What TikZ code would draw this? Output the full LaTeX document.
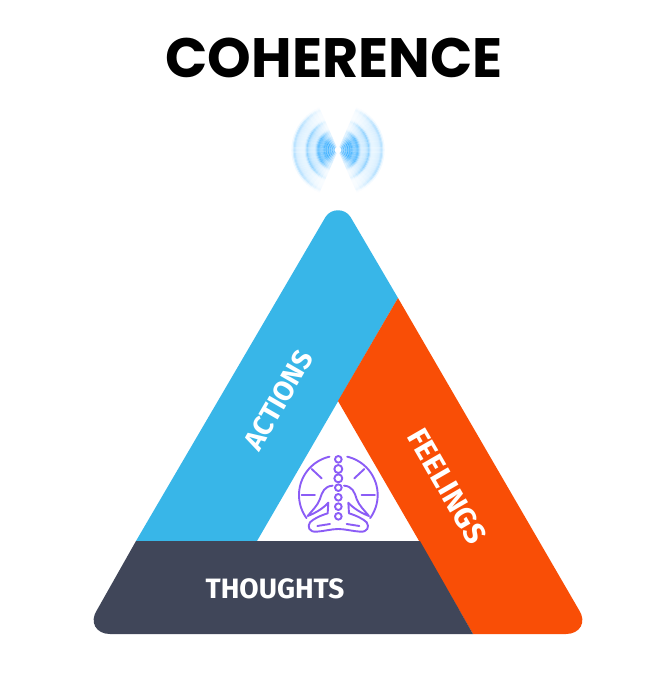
\documentclass[tikz,border=0pt]{standalone}
\usepackage{fontspec}
\setmainfont{Poppins}
\newfontfamily\labelfont{Fira Sans}
\definecolor{cblue}{HTML}{38B6E8}
\definecolor{corange}{HTML}{F94E06}
\definecolor{cdark}{HTML}{404659}
\definecolor{cpurple}{HTML}{8B5CF6}
\definecolor{cglow}{HTML}{45B4FF}
\tikzset{
  band/.style={line join=round},
  lbl/.style={text=white,font=\labelfont\bfseries\fontsize{28}{28}\selectfont,inner sep=0pt},
  icon/.style={draw=cpurple,line width=1.9pt,line cap=round,line join=round,fill=none}
}
\begin{document}
\begin{tikzpicture}[x=1pt,y=-1pt]
\useasboundingbox (0,0) rectangle (663,673);
\fill[white] (0,0) rectangle (663,673);
\node[inner sep=0pt,font=\bfseries\fontsize{55.5}{55.5}\selectfont] (title) at (334,58) {COHERENCE};
% glow
\begin{scope}[shift={(338,150)},x=1pt,y=1pt]
\foreach \r/\ring in {4/75,5/55,6/90,7/60,8/95,9/65,10/100,11/70,12/100,13/80,14/90,15/75,16/65,17/65,18/70,19/80,20/85,21/70,22/45,23/28,24/22,25/22,26/24,27/26,28/30,29/36,30/46,31/58,32/42,33/22,34/14,35/13,36/13,37/14,38/15,39/16,40/18,41/20,42/25,43/34,44/38,45/24,46/8}{
  \foreach \a in {-66,-60,...,60}{
    \pgfmathsetmacro{\w}{\ring*max(0,min(1,(72-abs(\a+3))/38))}
    \pgfmathsetmacro{\e}{\a+6.4}
    \draw[cglow!\w!white,line width=1.15pt] (\a:\r) arc[start angle=\a,end angle=\e,radius=\r];
    \draw[cglow!\w!white,line width=1.15pt] (180+\a:\r) arc[start angle=180+\a,end angle=180+\e,radius=\r];
  }
}
\end{scope}
% bands
\fill[cblue,band] (136,541) -- (325.5,217) .. controls (331,208) and (345,208) .. (350.5,217) -- (398,298) -- (257,541) -- cycle;
\fill[corange,band] (398,298) -- (579,610) .. controls (587,622) and (580,634) .. (566,634) -- (473,634) -- (338,401) -- cycle;
\fill[cdark,band] (136,541) -- (420,541) -- (473,634) -- (110,634) .. controls (96,634) and (89,622) .. (97,610) -- cycle;
\node[lbl,rotate=60] (actions) at (278.5,400) {ACTIONS};
\node[lbl,rotate=-60,font=\labelfont\bfseries\fontsize{30}{30}\selectfont] (feelings) at (447,486) {FEELINGS};
\node[lbl] (thoughts) at (275,589) {THOUGHTS};
% icon
\begin{scope}[shift={(285,445)},x=0.3333pt,y=-0.3333pt]
\draw[icon] plot[domain=-36:77,samples=40] ({160+118*cos(\x)},{150-118*sin(\x)});
\draw[icon] plot[domain=103:216,samples=40] ({160+118*cos(\x)},{150-118*sin(\x)});
\foreach \yy/\rr in {43/10,72/12,100/12,128/10,157/10,185/10,214/10}{\draw[icon] (160,\yy) circle[radius=\rr];}
\draw[icon] (80,72)--(110,100) (238,72)--(208,100) (50,150)--(90,150) (230,150)--(270,150);
\draw[icon] (143,122) .. controls (118,124) and (112,140) .. (105,162) .. controls (98,182) and (80,198) .. (68,213) .. controls (90,205) and (115,190) .. (130,173) -- (128,205) .. controls (105,212) and (85,222) .. (75,232);
\draw[icon] (135,237) -- (97,243);
\draw[icon] (177,122) .. controls (202,124) and (208,140) .. (215,162) .. controls (222,182) and (240,198) .. (252,213) .. controls (230,205) and (205,190) .. (190,173) -- (192,205) .. controls (215,212) and (235,222) .. (245,232);
\draw[icon] (185,237) -- (223,243);
\draw[icon] (75,232) .. controls (66,245) and (72,262) .. (95,260) .. controls (115,259) and (140,252) .. (160,252) .. controls (180,252) and (205,259) .. (225,260) .. controls (248,262) and (254,245) .. (245,232);
\end{scope}
\end{tikzpicture}
\end{document}
